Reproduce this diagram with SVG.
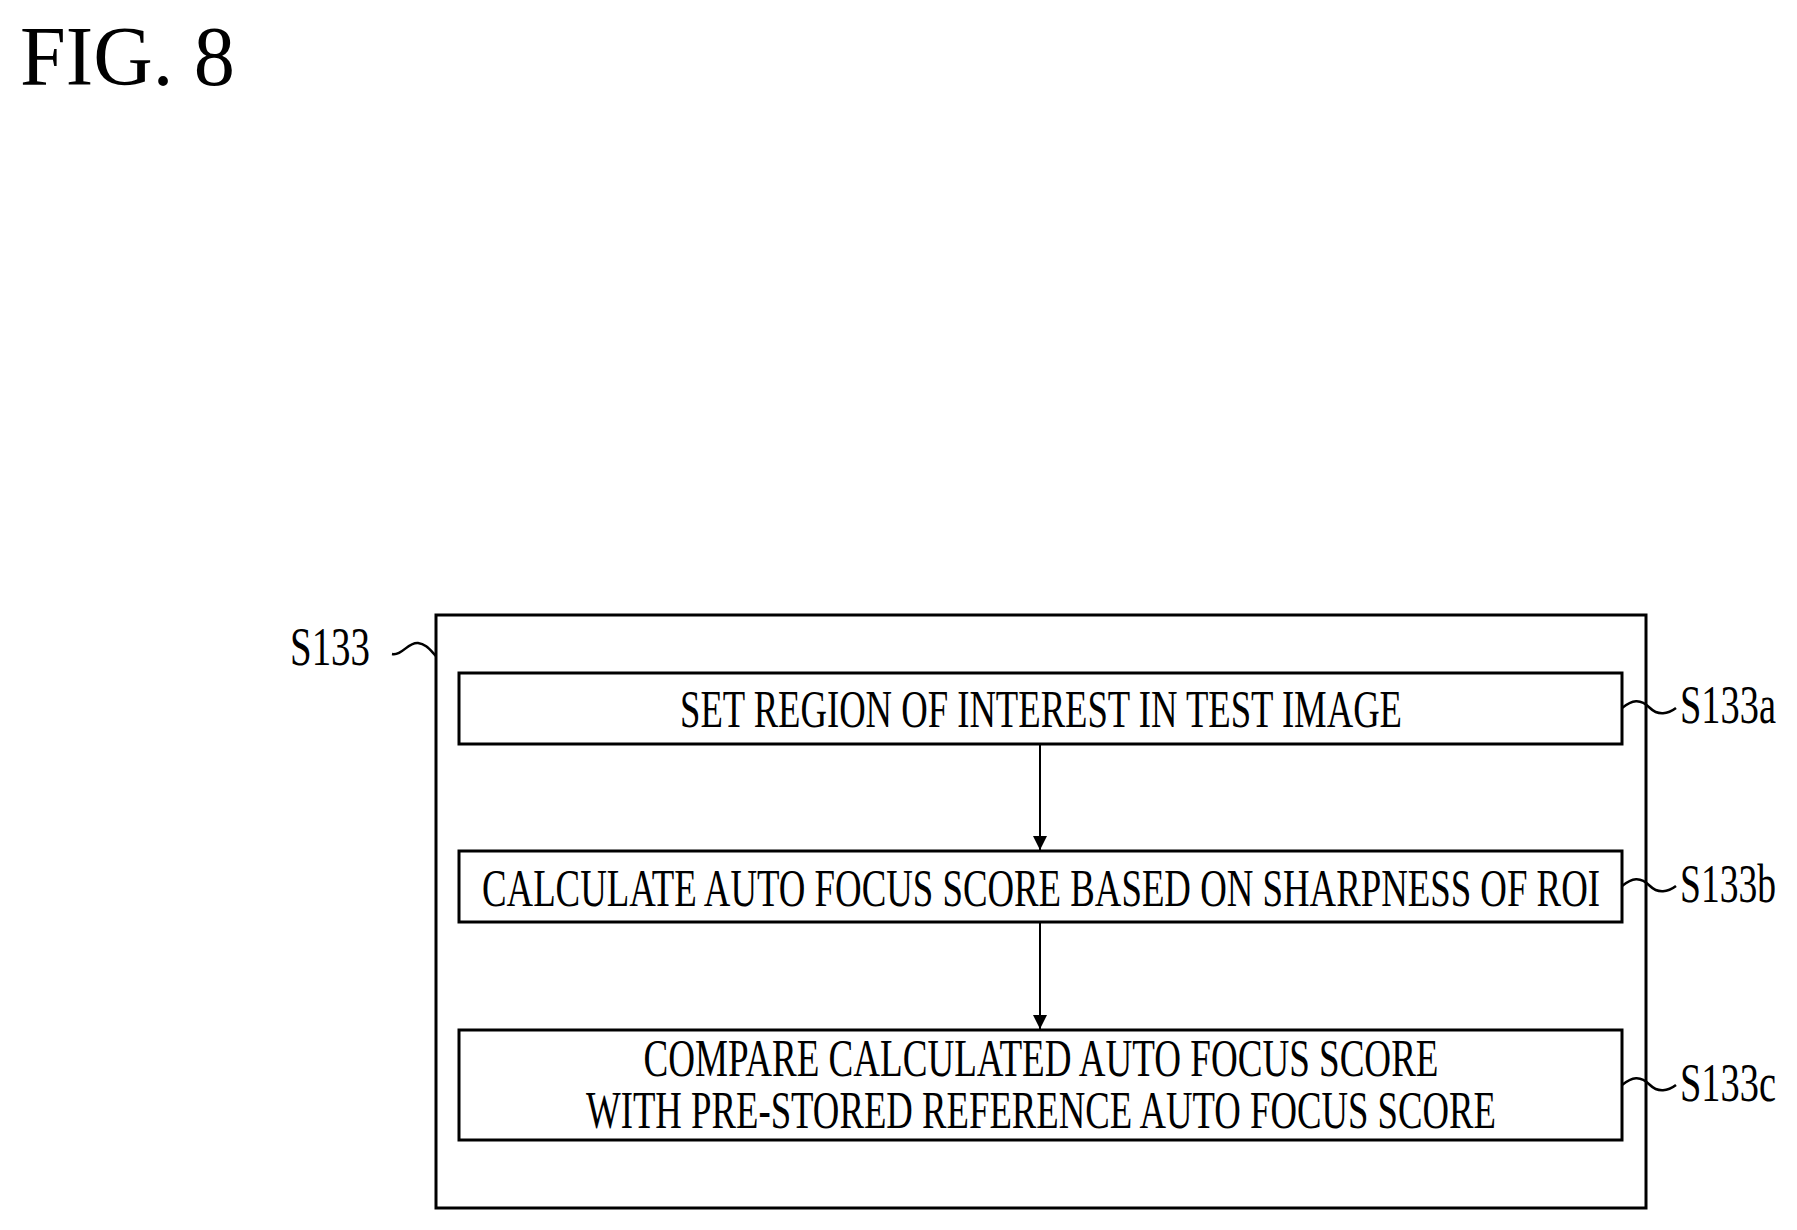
<svg xmlns="http://www.w3.org/2000/svg" width="1797" height="1230" viewBox="0 0 1797 1230">
<defs>
<style>
.t{font-family:"Liberation Serif","Times New Roman",serif;font-size:52px;fill:#000}
.l{font-family:"Liberation Serif","Times New Roman",serif;font-size:54px;fill:#000}
.b{fill:#fff;stroke:#000;stroke-width:3}
.w{fill:none;stroke:#000;stroke-width:2.5}
</style>
<marker id="ah" viewBox="0 0 10 10" refX="10" refY="5" markerWidth="22" markerHeight="14" orient="auto" markerUnits="userSpaceOnUse"><path d="M0,0 L10,5 L0,10 z" fill="#000"/></marker>
</defs>
<rect width="1797" height="1230" fill="#fff"/>
<text x="20" y="85" font-family="Liberation Serif,serif" font-size="84" textLength="215" lengthAdjust="spacingAndGlyphs">FIG. 8</text>
<g id="S133">
<rect class="b" x="436" y="615" width="1210" height="593"/>
<text class="l" x="290" y="665" textLength="80" lengthAdjust="spacingAndGlyphs">S133</text>
<path class="w" d="M392,654 C402,656 408,642 418,643 C426,644 430,650 436,656"/>
</g>
<g id="S133a">
<rect class="b" x="459" y="673" width="1163" height="71"/>
<text class="t" x="1041" y="727" text-anchor="middle" textLength="722" lengthAdjust="spacingAndGlyphs">SET REGION OF INTEREST IN TEST IMAGE</text>
<path class="w" d="M1622,708 C1632,700 1640,698 1650,708 C1658,716 1668,714 1676,708"/>
<text class="l" x="1680" y="723" textLength="96" lengthAdjust="spacingAndGlyphs">S133a</text>
</g>
<g id="S133b">
<rect class="b" x="459" y="851" width="1163" height="71"/>
<text class="t" x="1041" y="906" text-anchor="middle" textLength="1118" lengthAdjust="spacingAndGlyphs">CALCULATE AUTO FOCUS SCORE BASED ON SHARPNESS OF ROI</text>
<path class="w" d="M1622,886 C1632,878 1640,876 1650,886 C1658,894 1668,892 1676,886"/>
<text class="l" x="1680" y="902" textLength="96" lengthAdjust="spacingAndGlyphs">S133b</text>
</g>
<g id="S133c">
<rect class="b" x="459" y="1030" width="1163" height="110"/>
<text class="t" x="1041" y="1076" text-anchor="middle" textLength="795" lengthAdjust="spacingAndGlyphs">COMPARE CALCULATED AUTO FOCUS SCORE</text>
<text class="t" x="1041" y="1128" text-anchor="middle" textLength="910" lengthAdjust="spacingAndGlyphs">WITH PRE-STORED REFERENCE AUTO FOCUS SCORE</text>
<path class="w" d="M1622,1085 C1632,1077 1640,1075 1650,1085 C1658,1093 1668,1091 1676,1085"/>
<text class="l" x="1680" y="1101" textLength="96" lengthAdjust="spacingAndGlyphs">S133c</text>
</g>
<g id="connectors" stroke="#000" stroke-width="2">
<line x1="1040" y1="745" x2="1040" y2="850" marker-end="url(#ah)"/>
<line x1="1040" y1="923" x2="1040" y2="1029" marker-end="url(#ah)"/>
</g>
</svg>
